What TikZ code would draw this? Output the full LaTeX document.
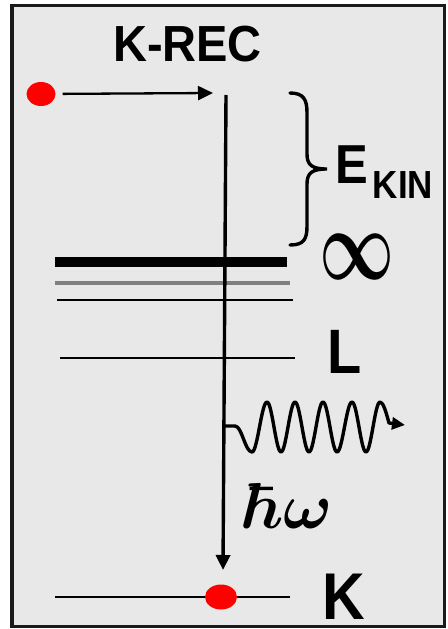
\documentclass[tikz,border=0pt]{standalone}
\usepackage{fontspec}
\usepackage{graphicx}
\newfontfamily\arl{Liberation Sans}
\usetikzlibrary{arrows.meta,shapes.geometric}
\definecolor{bgc}{HTML}{E8E8E8}
\definecolor{framec}{HTML}{1A1A1A}
\definecolor{dotred}{HTML}{FF0000}
\newcommand\talltext[2][1.12]{\scalebox{1}[#1]{#2}}
\begin{document}
\begin{tikzpicture}[x=1pt,y=-1pt,
  lbl/.style={inner sep=0pt,anchor=base,font=\arl\bfseries},
  level/.style={line width=2pt,draw=black},
  edot/.style={ellipse,fill=dotred,draw=none,inner sep=0pt,minimum width=29pt,minimum height=24pt},
  arr/.style={-{Triangle[length=15pt,width=14pt]}},
  heavy/.style={line width=3.4pt}]
\useasboundingbox (0,0) rectangle (447,629);
% frame
\draw[fill=bgc,draw=framec,line width=3.5pt] (12,5.5) rectangle (444.5,626.5);
% levels
\draw[line width=10pt] (55,262) -- (287,262);
\draw[line width=4pt,draw=black!50] (55,283) -- (290,283);
\draw[level] (57,300) -- (293,300);
\draw[level] (60,358) -- (295,358);
\draw[level] (55,597) -- (290,597);
% top electron and arrow
\node[edot] (e1) at (41,94) {};
\coordinate (tip1) at (213,93);
\draw[line width=2.3pt,arr,shorten <=7pt] (e1) -- (tip1);
% vertical transition
\coordinate (vtop) at (226,95);
\coordinate (vbot) at (223,570);
\draw[heavy,arr] (vtop) -- (vbot);
% K electron
\node[edot,minimum width=32pt,minimum height=25pt] (e2) at (221,597) {};
% photon
\coordinate (wstart) at (224,426);
\coordinate (wend) at (405,425);
\draw[heavy,line join=round,-{Triangle[length=13pt,width=12pt]}]
  (wstart) -- (235,426) .. controls (242,426) and (245,452) .. (252,452)
  cos (259.5,427) sin (267,402) cos (274,427) sin (281,452)
  cos (288,427) sin (295,402) cos (302,427) sin (309,452)
  cos (316,427) sin (323,402) cos (330,427) sin (337,452)
  cos (344.5,427) sin (352,402) cos (359,427) sin (366,452)
  cos (373,427) sin (380,402) cos (389,423) -- (wend);
% brace
\draw[heavy,line cap=round]
  (290,93) .. controls (304,93) and (307,100) .. (307,113) -- (307,154)
  .. controls (307,165) and (312,169) .. (327,169)
  .. controls (312,169) and (307,173) .. (307,184) -- (307,226)
  .. controls (307,239) and (304,245) .. (290,245);
% labels
\node[lbl] (krec) at (187.5,61) {\fontsize{47}{47}\selectfont\talltext[1.08]{K-REC}};
\node[lbl] (ekin) at (351.5,183) {\fontsize{49}{49}\selectfont\talltext{E}};
\node[lbl] (ksub) at (403,198) {\fontsize{35}{35}\selectfont\talltext{KIN}};
\node[inner sep=0pt] (inf) at (357,257) {\resizebox{75pt}{45pt}{\boldmath$\infty$}};
\node[lbl] (llab) at (345,373) {\fontsize{56}{56}\selectfont\talltext{L}};
\node[lbl] (klab) at (343.5,619) {\fontsize{59}{59}\selectfont\talltext{K}};
\node[inner sep=0pt,anchor=base] (hw) at (289,528) {\scalebox{6.5}{\boldmath$\hbar\omega$}};
\end{tikzpicture}
\end{document}
